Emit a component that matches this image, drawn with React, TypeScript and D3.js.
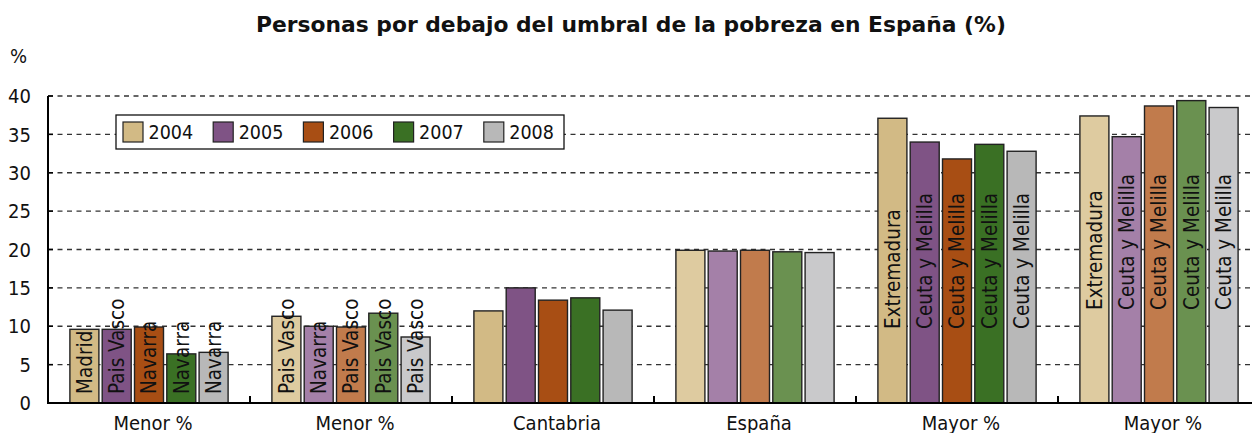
import React from 'react';
import * as d3 from 'd3';

// categories along the x axis
const groups = ['Menor %', 'Menor %', 'Cantabria', 'España', 'Mayor %', 'Mayor %'];
const years = ['2004', '2005', '2006', '2007', '2008'];

// poverty rate per group, one value per year
const menor1 = [9.6, 9.6, 9.9, 6.4, 6.6];
const menor2 = [11.3, 10.0, 9.9, 11.7, 8.6];
const cantabria = [12.0, 15.0, 13.4, 13.7, 12.1];
const espana = [19.9, 19.8, 19.9, 19.7, 19.6];
const mayor1 = [37.1, 34.0, 31.8, 33.7, 32.8];
const mayor2 = [37.4, 34.7, 38.7, 39.4, 38.5];
const values = [menor1, menor2, cantabria, espana, mayor1, mayor2];

// region names written inside the bars
const names1 = ['Madrid', 'Pais Vasco', 'Navarra', 'Navarra', 'Navarra'];
const names2 = ['Pais Vasco', 'Navarra', 'Pais Vasco', 'Pais Vasco', 'Pais Vasco'];
const names5 = ['Extremadura', 'Ceuta y Melilla', 'Ceuta y Melilla', 'Ceuta y Melilla', 'Ceuta y Melilla'];
const names6 = ['Extremadura', 'Ceuta y Melilla', 'Ceuta y Melilla', 'Ceuta y Melilla', 'Ceuta y Melilla'];
const barNames = [names1, names2, [], [], names5, names6];

const yTicks = [0, 5, 10, 15, 20, 25, 30, 35, 40];

const darkColors = ['#D2BA85', '#7F5385', '#A84E14', '#3A7024', '#B8B8B8'];
const lightColors = ['#DECBA0', '#A480A8', '#C17B4C', '#6A9150', '#C9C9CB'];

const W = 1252;
const H = 433;
const left = 48;
const right = 1260;
const top = 96;
const bottom = 403;
// where the rotated names end (bottom of text) in each group
const labelBase = [394, 394, 0, 0, 329, 310];

const font = '"DejaVu Sans Condensed", "DejaVu Sans", sans-serif';
const titleFont = '"DejaVu Sans", sans-serif';

export default function App() {
  const x0 = d3.scaleBand<number>().domain(d3.range(groups.length)).range([left, right]);
  const x1 = d3.scaleBand<number>()
    .domain(d3.range(years.length))
    .range([0, x0.bandwidth()])
    .paddingInner(0.102)
    .paddingOuter(0.678);
  const y = d3.scaleLinear().domain([0, 40]).range([bottom, top]);

  const legendX = (i: number) => 123 + i * 90.2;

  return (
    <svg width={W} height={H} style={{ position: 'absolute', left: 0, top: 0 }} fontFamily={font}>
      <rect width={W} height={H} fill="#fff" />
      <text x={631} y={32} textAnchor="middle" fontSize={21.8} fontWeight="bold" fill="#111" fontFamily={titleFont}>
        Personas por debajo del umbral de la pobreza en España (%)
      </text>
      <text x={10} y={63} fontSize={20} fill="#111">%</text>

      {/* gridlines */}
      {yTicks.filter(t => t > 0).map(t => (
        <line key={t} x1={left} x2={W} y1={y(t)} y2={y(t)} stroke="#333" strokeWidth={1.4} strokeDasharray="5,4.5" />
      ))}

      {/* y ticks and labels */}
      {yTicks.map(t => (
        <g key={t}>
          <line x1={left} x2={left + 5} y1={y(t)} y2={y(t)} stroke="#000" strokeWidth={1.5} />
          <text x={31} y={y(t)} dy="0.36em" textAnchor="end" fontSize={20} fill="#111">{t}</text>
        </g>
      ))}

      {/* bars */}
      {values.map((vals, g) => (
        <g key={g} transform={`translate(${x0(g)},0)`}>
          {vals.map((v, i) => (
            <rect
              key={i}
              x={x1(i)}
              y={y(v)}
              width={x1.bandwidth()}
              height={bottom - y(v)}
              fill={(g % 2 === 0 ? darkColors : lightColors)[i]}
              stroke="#222"
              strokeWidth={1.4}
            />
          ))}
          {barNames[g].map((name, i) => {
            const cx = (x1(i) ?? 0) + x1.bandwidth() / 2;
            return (
              <text
                key={'n' + i}
                transform={`translate(${cx},${labelBase[g]}) rotate(-90)`}
                dy="0.36em"
                fontSize={20.5}
                fill="#111"
              >
                {name}
              </text>
            );
          })}
        </g>
      ))}

      {/* axes */}
      <line x1={left} x2={left} y1={top} y2={bottom + 1} stroke="#000" strokeWidth={2} />
      <line x1={left - 1} x2={W} y1={bottom} y2={bottom} stroke="#000" strokeWidth={2} />
      {d3.range(1, groups.length).map(g => (
        <line key={g} x1={x0(g)} x2={x0(g)} y1={bottom} y2={bottom - 7} stroke="#000" strokeWidth={2} />
      ))}
      {groups.map((name, g) => (
        <text key={g} x={(x0(g) ?? 0) + x0.bandwidth() / 2 + 4} y={429.5} textAnchor="middle" fontSize={20} fill="#111">
          {name}
        </text>
      ))}

      {/* legend */}
      <rect x={116} y={115} width={448} height={34} fill="#fff" stroke="#111" strokeWidth={1.3} />
      {years.map((yr, i) => (
        <g key={yr}>
          <rect x={legendX(i)} y={122} width={20} height={20} fill={darkColors[i]} stroke="#222" strokeWidth={1.2} />
          <text x={legendX(i) + 25.5} y={139} fontSize={19.5} fill="#111">{yr}</text>
        </g>
      ))}
    </svg>
  );
}
